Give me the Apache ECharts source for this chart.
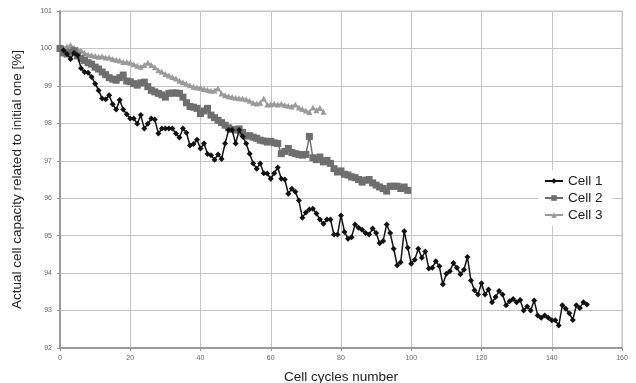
<!DOCTYPE html>
<html>
<head>
<meta charset="utf-8">
<script src="https://cdn.jsdelivr.net/npm/echarts@6/dist/echarts.min.js"></script>
<style>html,body{margin:0;padding:0;background:#fff}#c{width:636px;height:383px}</style>
</head>
<body>
<div id="c"></div>
<script>
var seriesNames = ['Cell 1', 'Cell 2', 'Cell 3'];
var xTicks = [0, 20, 40, 60, 80, 100, 120, 140, 160];
var yTicks = [92, 93, 94, 95, 96, 97, 98, 99, 100, 101];
var cell1Start = 1;
var cell1 = [99.95, 99.85, 99.72, 99.88, 99.82, 99.47, 99.37, 99.35, 99.24, 99.06,
  98.88, 98.66, 98.64, 98.75, 98.51, 98.37, 98.62, 98.37, 98.24, 98.13,
  98.13, 97.99, 98.22, 97.86, 97.99, 98.13, 98.10, 97.73, 97.86, 97.86,
  97.86, 97.86, 97.73, 97.62, 97.86, 97.75, 97.41, 97.45, 97.56, 97.33,
  97.46, 97.18, 97.15, 97.03, 97.17, 97.05, 97.46, 97.82, 97.82, 97.46,
  97.82, 97.65, 97.46, 97.19, 96.93, 96.79, 96.93, 96.67, 96.66, 96.52,
  96.67, 96.82, 96.52, 96.50, 96.12, 96.25, 96.17, 95.94, 95.48, 95.62,
  95.70, 95.72, 95.59, 95.43, 95.32, 95.43, 95.43, 95.03, 95.03, 95.54,
  95.10, 94.92, 94.96, 95.30, 95.21, 95.16, 95.07, 95.03, 95.19, 95.07,
  94.80, 94.86, 95.30, 95.07, 94.65, 94.21, 94.29, 95.12, 94.68, 94.25,
  94.36, 94.65, 94.41, 94.58, 94.12, 94.14, 94.32, 94.18, 93.70, 93.98,
  94.05, 94.27, 94.14, 93.97, 94.09, 94.43, 93.80, 93.54, 93.43, 93.73,
  93.43, 93.56, 93.22, 93.36, 93.52, 93.43, 93.14, 93.25, 93.31, 93.22,
  93.28, 93.00, 93.11, 93.00, 93.27, 92.87, 92.81, 92.87, 92.81, 92.74,
  92.74, 92.60, 93.14, 93.05, 92.93, 92.75, 93.14, 93.07, 93.22, 93.16];
var cell2Start = 0;
var cell2 = [100.00, 99.88, 99.85, 99.90, 99.94, 99.80, 99.73, 99.68, 99.62, 99.58,
  99.50, 99.45, 99.37, 99.30, 99.22, 99.18, 99.15, 99.22, 99.29, 99.13,
  99.11, 99.06, 99.02, 99.08, 99.10, 98.98, 98.88, 98.84, 98.80, 98.76,
  98.70, 98.80, 98.81, 98.81, 98.80, 98.70, 98.55, 98.45, 98.43, 98.40,
  98.26, 98.33, 98.40, 98.22, 98.15, 98.08, 98.02, 97.95, 97.88, 97.84,
  97.82, 97.85, 97.76, 97.66, 97.67, 97.63, 97.60, 97.55, 97.53, 97.50,
  97.52, 97.48, 97.46, 97.19, 97.25, 97.33, 97.22, 97.19, 97.17, 97.15,
  97.17, 97.65, 97.08, 97.03, 97.10, 96.97, 97.01, 96.93, 96.79, 96.70,
  96.73, 96.64, 96.62, 96.57, 96.55, 96.50, 96.43, 96.48, 96.50, 96.41,
  96.35, 96.30, 96.26, 96.19, 96.32, 96.32, 96.32, 96.26, 96.30, 96.21];
var cell3Start = 0;
var cell3 = [100.04, 100.02, 100.05, 100.09, 100.02, 99.98, 99.94, 99.88, 99.84, 99.82,
  99.80, 99.78, 99.79, 99.76, 99.76, 99.72, 99.70, 99.68, 99.64, 99.64,
  99.62, 99.58, 99.54, 99.51, 99.56, 99.62, 99.56, 99.50, 99.42, 99.38,
  99.32, 99.28, 99.24, 99.20, 99.14, 99.10, 99.06, 99.02, 98.98, 98.96,
  98.95, 98.92, 98.90, 98.87, 98.88, 98.94, 98.80, 98.75, 98.72, 98.70,
  98.68, 98.67, 98.66, 98.64, 98.60, 98.55, 98.53, 98.55, 98.66, 98.50,
  98.51, 98.52, 98.50, 98.52, 98.49, 98.47, 98.45, 98.50, 98.42, 98.38,
  98.34, 98.30, 98.42, 98.35, 98.41, 98.31];

function pairs(arr, start) { return arr.map(function (v, i) { return [start + i, v]; }); }

var chart = echarts.init(document.getElementById('c'), null, { renderer: 'canvas' });
var font = 'Liberation Sans, Arial, sans-serif';
chart.setOption({
  animation: false,
  backgroundColor: '#ffffff',
  grid: { left: 60, right: 14, top: 11, bottom: 35, show: true, borderColor: '#c4c4c4', borderWidth: 1,
    containLabel: false, outerBoundsMode: 'none' },
  legend: {
    data: seriesNames,
    orient: 'vertical',
    left: 538, top: 170,
    backgroundColor: '#ffffff',
    padding: [4, 10, 4, 6],
    itemGap: 3,
    itemWidth: 18, itemHeight: 7,
    textStyle: { fontFamily: font, fontSize: 13.5, color: '#222' }
  },
  xAxis: {
    type: 'value', min: xTicks[0], max: xTicks[xTicks.length - 1], interval: 20,
    name: 'Cell cycles number', nameLocation: 'middle', nameGap: 22,
    nameTextStyle: { fontFamily: font, fontSize: 13.5, color: '#222' },
    axisLine: { show: true, lineStyle: { color: '#999', width: 2 } },
    axisTick: { show: true, length: 3, lineStyle: { color: '#999' } },
    axisLabel: { fontFamily: font, fontSize: 7, color: '#666', margin: 7 },
    splitLine: { show: true, lineStyle: { color: '#c4c4c4', width: 1 } }
  },
  yAxis: {
    type: 'value', min: yTicks[0], max: yTicks[yTicks.length - 1], interval: 1,
    name: 'Actual cell capacity related to initial one [%]', nameLocation: 'middle', nameGap: 36,
    nameTextStyle: { fontFamily: font, fontSize: 13.5, color: '#222' },
    axisLine: { show: true, lineStyle: { color: '#999', width: 2 } },
    axisTick: { show: true, length: 3, lineStyle: { color: '#999' } },
    axisLabel: { fontFamily: font, fontSize: 7, color: '#666', margin: 8 },
    splitLine: { show: true, lineStyle: { color: '#c4c4c4', width: 1 } }
  },
  series: [
    { name: seriesNames[0], type: 'line', data: pairs(cell1, cell1Start), symbol: 'diamond', symbolSize: 6,
      itemStyle: { color: '#111' }, lineStyle: { color: '#111', width: 1.5 }, z: 5 },
    { name: seriesNames[1], type: 'line', data: pairs(cell2, cell2Start), symbol: 'rect', symbolSize: 7,
      itemStyle: { color: '#6e6e6e' }, lineStyle: { color: '#6e6e6e', width: 1.5 }, z: 4 },
    { name: seriesNames[2], type: 'line', data: pairs(cell3, cell3Start), symbol: 'triangle', symbolSize: 6,
      itemStyle: { color: '#9a9a9a' }, lineStyle: { color: '#9a9a9a', width: 1.5 }, z: 3 }
  ]
});
</script>
</body>
</html>
